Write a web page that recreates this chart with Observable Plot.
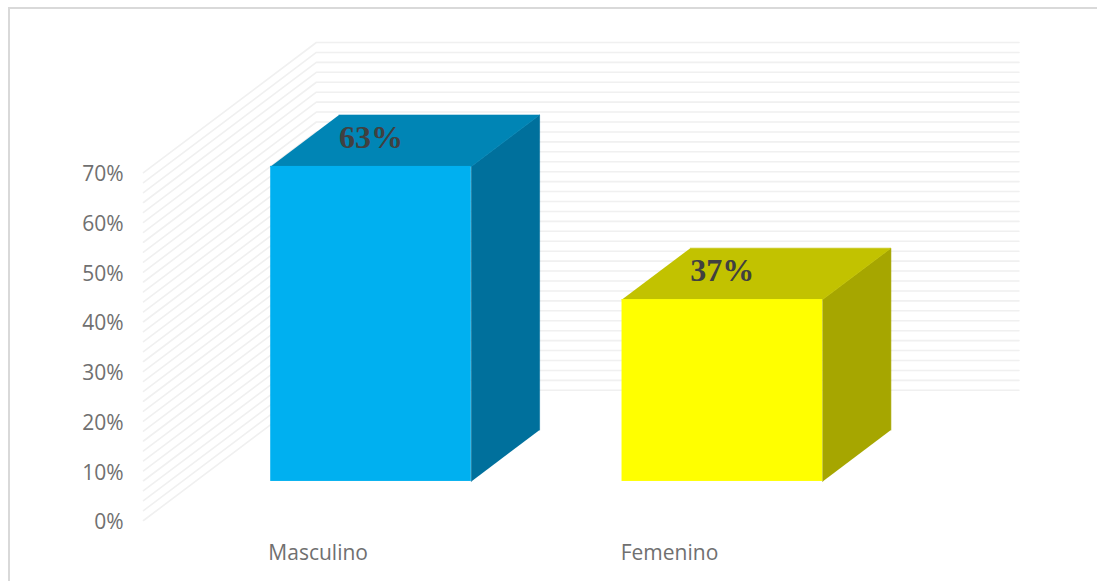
<!DOCTYPE html>
<html>
<head>
<meta charset="utf-8">
<script src="https://cdn.jsdelivr.net/npm/d3@7"></script>
<script src="https://cdn.jsdelivr.net/npm/@observablehq/plot@0.6"></script>
<style>
  html, body { margin: 0; padding: 0; background: #fff; overflow: hidden; }
  #chart { position: absolute; left: 0; top: 0; }
  #frame { position: absolute; left: 8px; top: 7px; right: 0; bottom: 0;
           border-top: 2px solid #d9d9d9; border-left: 2px solid #d9d9d9; }
</style>
</head>
<body>
<div id="frame"></div>
<div id="chart"></div>
<script>
const categories = ["Masculino", "Femenino"];
const values = [0.634, 0.366];
const labels = ["63%", "37%"];
const frontColors = ["#00B0F0", "#FFFF00"];
const topColors = ["#0085B5", "#C2C200"];
const sideColors = ["#00709C", "#A6A600"];
const axisTicks = [0, 0.1, 0.2, 0.3, 0.4, 0.5, 0.6, 0.7];
const gridTicks = d3.range(0, 36).map(i => i * 0.02);

// Oblique projection: one unit of depth shifts by these amounts in data units.
const skewX = 0.492, skewY = 0.262;
const barWidth = 0.571, barDepth = 0.395;
const gapX = (1 - barWidth) / 2, gapZ = 0.30;
const project = (cat, val, depth) => ({x: cat + depth * skewX, y: val + depth * skewY});

const gridLines = gridTicks.map(t => [
  project(0, t, 0), project(0, t, 1), project(2, t, 1)
]);

const bars = values.map((v, i) => {
  const x0 = i + gapX, x1 = x0 + barWidth, z0 = gapZ, z1 = gapZ + barDepth;
  return {
    i, v,
    front: [project(x0, v, z0), project(x1, 0, z0)],
    top: [project(x0, v, z0), project(x1, v, z0), project(x1, v, z1), project(x0, v, z1)],
    side: [project(x1, 0, z0), project(x1, v, z0), project(x1, v, z1), project(x1, 0, z1)],
    label: project(x0 + barWidth / 2, v, z0)
  };
});

const axisFont = "'Open Sans', sans-serif";

const plot = Plot.plot({
  width: 1097,
  height: 581,
  marginLeft: 143,
  marginRight: 78.5,
  marginTop: 42,
  marginBottom: 61,
  style: {background: "transparent", overflow: "visible"},
  x: {domain: [0, 2 + skewX], axis: null},
  y: {domain: [0, 0.7 + skewY], axis: null},
  marks: [
    ...gridLines.map(pts => Plot.line(pts, {x: "x", y: "y", stroke: "#f0f0f0", strokeWidth: 1.6})),
    ...bars.flatMap(b => [
      Plot.line(b.side, {x: "x", y: "y", fill: sideColors[b.i], stroke: sideColors[b.i], strokeWidth: 0.6}),
      Plot.line(b.top, {x: "x", y: "y", fill: topColors[b.i], stroke: topColors[b.i], strokeWidth: 0.6}),
      Plot.rect([b.front], {
        x1: d => d[0].x, x2: d => d[1].x,
        y1: d => d[1].y, y2: d => d[0].y,
        fill: frontColors[b.i]
      }),
      Plot.text([b.label], {
        x: "x", y: "y", text: () => labels[b.i], dy: -29,
        fontFamily: "'Liberation Serif', serif", fontWeight: "bold",
        fontSize: 32, fill: "#404040"
      })
    ]),
    Plot.axisY({
      ticks: axisTicks, tickFormat: d3.format(".0%"), tickSize: 0, tickPadding: 20, dy: 2,
      label: null, fontSize: 21, fontFamily: axisFont, fill: "#707070"
    }),
    Plot.axisX({
      ticks: [0.5, 1.5], tickFormat: t => categories[Math.floor(t)], tickSize: 0, dx: -1,
      tickPadding: 25, label: null, fontSize: 21, fontFamily: axisFont, fill: "#707070"
    })
  ]
});
document.getElementById("chart").append(plot);
</script>
</body>
</html>
